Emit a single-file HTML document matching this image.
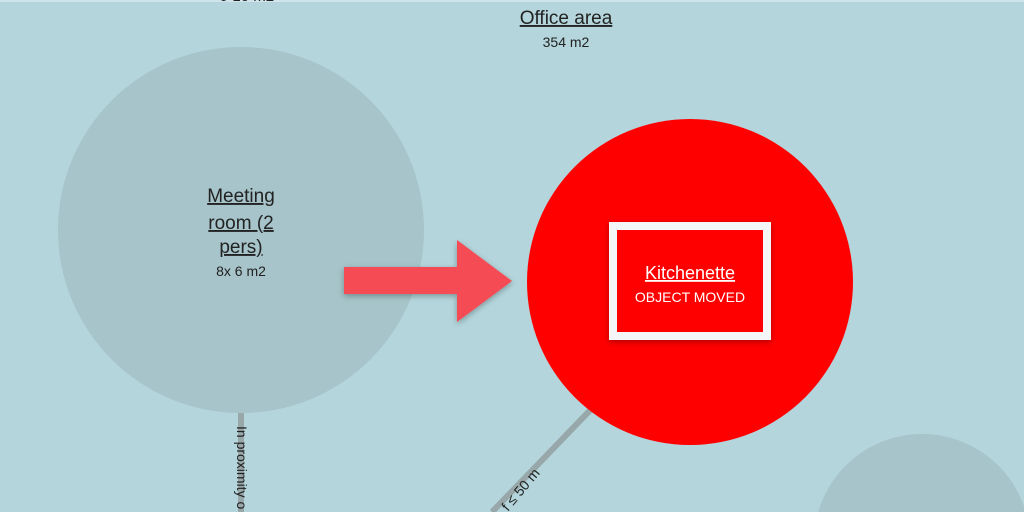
<!DOCTYPE html>
<html><head><style>
html,body{margin:0;width:1024px;height:512px;overflow:hidden;background:#b3d5db;font-family:"Liberation Sans","DejaVu Sans",sans-serif;}
svg{display:block;position:absolute;left:0;top:0;overflow:hidden}
</style></head><body>
<svg width="1024" height="512" viewBox="0 0 1024 512" xmlns="http://www.w3.org/2000/svg">
<defs>
<filter id="sh" x="-20%" y="-20%" width="140%" height="140%"><feDropShadow dx="0" dy="2" stdDeviation="3" flood-color="#000" flood-opacity="0.3"/></filter>
</defs>
<rect x="0" y="0" width="1024" height="2" fill="#cfe3ea"/>
<text x="247" y="1" font-size="15" text-anchor="middle" fill="#222">9 10 m2</text>
<line x1="241" y1="400" x2="241" y2="512" stroke="#98a8aa" stroke-width="6"/>
<line x1="600" y1="400" x2="492" y2="512" stroke="#98a8aa" stroke-width="6"/>
<circle cx="241" cy="230" r="183" fill="#a6c4c9"/>
<circle cx="922" cy="542" r="108" fill="#a6c4c9"/>
<circle cx="690" cy="282" r="163" fill="#ff0000"/>
<text x="566" y="24" font-size="19" text-anchor="middle" fill="#222" text-decoration="underline">Office area</text>
<text x="566" y="47" font-size="14" text-anchor="middle" fill="#222">354 m2</text>
<g font-size="19" fill="#222" text-anchor="middle" text-decoration="underline">
<text x="241" y="202">Meeting</text>
<text x="241" y="229">room (2</text>
<text x="241" y="253">pers)</text>
</g>
<text x="241" y="276" font-size="14" text-anchor="middle" fill="#222">8x 6 m2</text>
<text transform="translate(237,426) rotate(90)" font-size="14" fill="#222">In proximity o</text>
<text transform="translate(508,512) rotate(-50)" font-size="14" fill="#222">f ≤ 50 m</text>
<polygon points="344,267 457,267 457,240 512,281 457,322 457,294 344,294" fill="#f54b55" filter="url(#sh)"/>
<rect x="613" y="226" width="154" height="110" fill="#ff0000" stroke="#f4f6f7" stroke-width="8" filter="url(#sh)"/>
<text x="690" y="279" font-size="18" text-anchor="middle" fill="#fff" text-decoration="underline">Kitchenette</text>
<text x="690" y="302" font-size="14" text-anchor="middle" fill="#fff">OBJECT MOVED</text>
</svg>
</body></html>
